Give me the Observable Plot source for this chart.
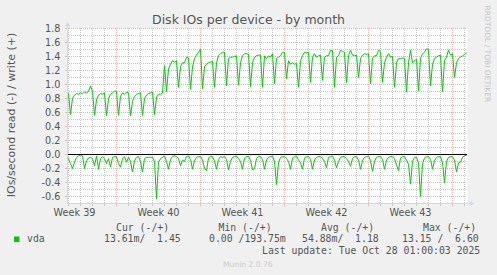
<!DOCTYPE html>
<html><head><meta charset="utf-8">
<script src="https://cdn.jsdelivr.net/npm/d3@7"></script>
<script src="https://cdn.jsdelivr.net/npm/@observablehq/plot@0.6"></script>
<style>
html,body{margin:0;padding:0;background:#F0F0F0;}
#chart{width:497px;height:275px;}
svg{display:block}
</style></head><body><div id="chart"></div>
<script>
// sampling: one value every 4 hours starting Sep 24 2025 20:00
const startTime = Date.UTC(2025, 8, 24, 20);
const stepHours = 4;

// write IOs/second (+), points at 00,04,08,12,16,20 each day
const writeIO = [0.87,
 0.87,0.57,0.80,0.85,0.87,0.86, // Sep 25
 0.88,0.87,0.89,0.88,0.90,0.98, // Sep 26
 0.90,0.56,0.78,0.85,0.87,0.86, // Sep 27
 0.88,0.55,0.80,0.86,0.88,0.91, // Sep 28
 0.90,0.56,0.83,0.88,0.86,0.89, // Sep 29
 0.88,0.55,0.76,0.83,0.86,0.87, // Sep 30
 0.88,0.56,0.80,0.85,0.87,0.88, // Oct 1
 0.89,0.57,0.82,0.86,0.86,0.88, // Oct 2
 1.27,0.90,1.22,1.29,1.34,1.32, // Oct 3
 1.34,0.96,1.25,1.31,1.31,1.39, // Oct 4
 1.38,0.93,1.25,1.37,1.42,1.46, // Oct 5
 1.50,0.94,1.25,1.29,1.31,1.32, // Oct 6
 1.33,0.96,1.31,1.41,1.44,1.46, // Oct 7
 1.46,0.98,1.37,1.39,1.39,1.40, // Oct 8
 1.41,0.99,1.31,1.41,1.44,1.44, // Oct 9
 1.43,0.97,1.31,1.39,1.41,1.42, // Oct 10
 1.42,0.96,1.41,1.37,1.41,1.39, // Oct 11
 1.44,1.01,1.37,1.39,1.41,1.46, // Oct 12
 1.46,1.08,1.34,1.29,1.31,1.29, // Oct 13
 1.30,0.96,1.34,1.41,1.46,1.45, // Oct 14
 1.46,1.03,1.39,1.44,1.39,1.41, // Oct 15
 1.42,1.06,1.39,1.41,1.41,1.49, // Oct 16
 1.48,0.96,1.39,1.41,1.49,1.47, // Oct 17
 1.46,1.03,1.41,1.49,1.42,1.41, // Oct 18
 1.42,1.10,1.37,1.42,1.44,1.43, // Oct 19
 1.44,1.01,1.37,1.41,1.41,1.49, // Oct 20
 1.47,1.03,1.31,1.39,1.44,1.39, // Oct 21
 1.40,0.96,1.31,1.37,1.37,1.38, // Oct 22
 1.37,0.89,1.31,1.49,1.31,1.34, // Oct 23
 1.36,0.91,1.37,1.44,1.46,1.51, // Oct 24
 1.50,0.98,1.29,1.37,1.39,1.41, // Oct 25
 1.42,0.90,1.34,1.39,1.49,1.42, // Oct 26
 1.44,1.10,1.31,1.37,1.39,1.41, // Oct 27
 1.43,1.45];                    // Oct 28

// read IOs/second (drawn negative)
const readIO = [-0.01,
 -0.06,-0.13,-0.20,-0.11,-0.04,-0.02, // Sep 25
 -0.01,-0.02,-0.20,-0.09,-0.05,-0.04, // Sep 26
 -0.06,-0.16,-0.02,-0.21,-0.06,-0.03, // Sep 27
 -0.06,-0.13,-0.06,-0.18,-0.04,-0.03, // Sep 28
 -0.03,-0.13,-0.18,-0.06,-0.03,-0.11, // Sep 29
 -0.04,-0.10,-0.25,-0.09,-0.04,-0.03, // Sep 30
 -0.10,-0.25,-0.06,-0.04,-0.04,-0.04, // Oct 1
 -0.04,-0.10,-0.63,-0.11,-0.06,-0.04, // Oct 2
 -0.02,-0.10,-0.21,-0.07,-0.03,-0.02, // Oct 3
 -0.03,-0.06,-0.16,-0.08,-0.10,-0.03, // Oct 4
 -0.02,-0.07,-0.21,-0.09,-0.04,-0.03, // Oct 5
 -0.03,-0.08,-0.20,-0.23,-0.05,-0.03, // Oct 6
 -0.03,-0.09,-0.21,-0.07,-0.03,-0.04, // Oct 7
 -0.03,-0.07,-0.22,-0.10,-0.04,-0.03, // Oct 8
 -0.02,-0.06,-0.10,-0.21,-0.05,-0.03, // Oct 9
 -0.03,-0.08,-0.22,-0.20,-0.06,-0.03, // Oct 10
 -0.03,-0.07,-0.21,-0.08,-0.04,-0.03, // Oct 11
 -0.02,-0.10,-0.43,-0.12,-0.04,-0.03, // Oct 12
 -0.03,-0.06,-0.10,-0.21,-0.05,-0.03, // Oct 13
 -0.02,-0.08,-0.12,-0.21,-0.05,-0.03, // Oct 14
 -0.03,-0.07,-0.21,-0.08,-0.04,-0.03, // Oct 15
 -0.03,-0.06,-0.10,-0.19,-0.04,-0.03, // Oct 16
 -0.02,-0.08,-0.19,-0.10,-0.04,-0.03, // Oct 17
 -0.03,-0.06,-0.10,-0.17,-0.06,-0.03, // Oct 18
 -0.03,-0.08,-0.21,-0.09,-0.04,-0.03, // Oct 19
 -0.02,-0.09,-0.24,-0.10,-0.04,-0.03, // Oct 20
 -0.03,-0.07,-0.21,-0.08,-0.04,-0.03, // Oct 21
 -0.03,-0.06,-0.15,-0.23,-0.05,-0.03, // Oct 22
 -0.03,-0.08,-0.14,-0.42,-0.10,-0.04, // Oct 23
 -0.04,-0.12,-0.60,-0.13,-0.05,-0.03, // Oct 24
 -0.03,-0.07,-0.21,-0.09,-0.04,-0.03, // Oct 25
 -0.03,-0.12,-0.40,-0.10,-0.04,-0.03, // Oct 26
 -0.03,-0.08,-0.25,-0.12,-0.11,-0.04, // Oct 27
 -0.02,-0.01];                        // Oct 28

const yTicks = [-0.6,-0.4,-0.2,0,0.2,0.4,0.6,0.8,1.0,1.2,1.4,1.6,1.8];
const yTickLabels = ["-0.6","-0.4","-0.2","0.0","0.2","0.4","0.6","0.8","1.0","1.2","1.4","1.6","1.8"];
const yMinor = [-0.5,-0.3,-0.1,0.1,0.3,0.5,0.7,0.9,1.1,1.3,1.5,1.7];
const weekLabels = ["Week 39","Week 40","Week 41","Week 42","Week 43"];
const weekStarts = ["2025-09-22","2025-09-29","2025-10-06","2025-10-13","2025-10-20"];
const legendHeaders = ["Cur (-/+)","Min (-/+)","Avg (-/+)","Max (-/+)"];
const legendValues = ["13.61m/  1.45","0.00 /193.75m","54.88m/  1.18","13.15 /  6.60"];
const seriesName = "vda";
const title = "Disk IOs per device - by month";
const yLabel = "IOs/second read (-) / write (+)";
const lastUpdate = "Last update: Tue Oct 28 01:00:03 2025";
const footer = "Munin 2.0.76";
const watermark = "RRDTOOL / TOBI OETIKER";

const H = 3600 * 1000;
const writeData = writeIO.map((v, i) => ({t: new Date(startTime + i * stepHours * H), v}));
const readData = readIO.map((v, i) => ({t: new Date(startTime + i * stepHours * H), v}));
const xDomain = [new Date(Date.UTC(2025, 8, 24, 22)), new Date(Date.UTC(2025, 9, 28, 6))];
const days = d3.utcDay.range(d3.utcDay.ceil(xDomain[0]), xDomain[1]);
const mondays = days.filter(d => d.getUTCDay() === 1);
const minorDays = days.filter(d => d.getUTCDay() !== 1);
const weekMid = weekStarts.map(s => new Date(new Date(s + "T00:00:00Z").getTime() + 84 * H));

const GRID = "#c6c6c6", MGRID = "#f3b0b0", AXIS = "#CFD6F8", FONT = "#555";

const plot = Plot.plot({
  width: 497, height: 275,
  marginLeft: 67, marginRight: 30, marginTop: 28, marginBottom: 72,
  x: {type: "utc", domain: xDomain, axis: null},
  y: {domain: [-0.7, 1.8], axis: null},
  style: {background: "transparent", fontFamily: "DejaVu Sans", overflow: "visible"},
  marks: [
    Plot.frame({fill: "white", stroke: "none"}),
    Plot.ruleY(yMinor, {stroke: GRID, strokeDasharray: "1,1"}),
    Plot.ruleX(minorDays, {stroke: GRID, strokeDasharray: "1,1"}),
    Plot.ruleY(yTicks, {stroke: MGRID, strokeDasharray: "1,1"}),
    Plot.ruleX(mondays, {stroke: MGRID, strokeDasharray: "1,1"}),
    Plot.line(writeData, {x: "t", y: "v", stroke: "#00CC00", strokeWidth: 1, clip: true}),
    Plot.line(readData, {x: "t", y: "v", stroke: "#00CC00", strokeWidth: 1, clip: true}),
    Plot.ruleY([0], {stroke: "black"}),
    Plot.text(yTicks, {x: xDomain[0], y: d => d, text: (d, i) => yTickLabels[i], textAnchor: "end", dx: -7, fontSize: 9.7, fill: FONT}),
    Plot.text(weekMid, {x: d => d, y: -0.7, text: (d, i) => weekLabels[i], dy: 9.5, fontSize: 9.7, fill: FONT})
  ]
});
document.getElementById("chart").appendChild(plot);

const svg = d3.select(plot);
const X = plot.scale("x"), Y = plot.scale("y");
const x0 = Math.round(X.apply(xDomain[0])) + 0.5, x1 = Math.round(X.apply(xDomain[1])) + 0.5;
const yb = Math.round(Y.apply(-0.7)) + 0.5, yt = Math.round(Y.apply(1.8)) + 0.5;
const g = svg.append("g");
// small tick marks on axes
days.forEach(d => {
  const px = Math.round(X.apply(d)) + 0.5;
  g.append("line").attr("x1", px).attr("x2", px).attr("y1", yb).attr("y2", yb + 2.5)
    .attr("stroke", d.getUTCDay() === 1 ? MGRID : GRID);
});
yTicks.forEach(v => {
  const py = Math.round(Y.apply(v)) + 0.5;
  g.append("line").attr("x1", x0 - 2.5).attr("x2", x0).attr("y1", py).attr("y2", py).attr("stroke", MGRID);
});
// axes with arrows
g.append("line").attr("x1", x0).attr("x2", x0).attr("y1", yb).attr("y2", yt - 4).attr("stroke", AXIS);
g.append("path").attr("d", `M${x0 - 2.5},${yt - 2}L${x0 + 2.5},${yt - 2}L${x0},${yt - 7}Z`).attr("fill", AXIS);
g.append("line").attr("x1", x0).attr("x2", x1 + 3).attr("y1", yb).attr("y2", yb).attr("stroke", AXIS);
g.append("path").attr("d", `M${x1 + 2},${yb - 2.5}L${x1 + 2},${yb + 2.5}L${x1 + 7},${yb}Z`).attr("fill", AXIS);

const T = svg.append("g").attr("font-family", "DejaVu Sans").attr("fill", FONT).attr("text-anchor", "start");
T.append("text").attr("x", 248.5).attr("y", 24).attr("text-anchor", "middle").attr("font-size", 12.5).text(title);
T.append("text").attr("transform", "translate(15,115) rotate(-90)").attr("text-anchor", "middle").attr("font-size", 11).text(yLabel);
T.append("text").attr("transform", "translate(485,5.5) rotate(90)").attr("font-size", 7.5).attr("fill", "#c4c4c4").text(watermark);
T.append("text").attr("x", 223).attr("y", 266.5).attr("font-size", 7.6).attr("fill", "#cccccc").text(footer);

const L = svg.append("g").attr("font-family", "DejaVu Sans Mono").attr("font-size", 9.8).attr("fill", FONT)
  .attr("text-anchor", "start").style("white-space", "pre");
L.append("rect").attr("x", 14).attr("y", 236.5).attr("width", 5.5).attr("height", 5.5).attr("fill", "#00CC00");
L.append("text").attr("x", 27).attr("y", 242).text(seriesName);
const headerX = [116, 218.5, 321, 423];
const valueX = [104, 209, 302, 402];
legendHeaders.forEach((h, i) => L.append("text").attr("x", headerX[i]).attr("y", 230.5).text(h));
legendValues.forEach((v, i) => L.append("text").attr("x", valueX[i]).attr("y", 242).text(v));
L.append("text").attr("x", 262).attr("y", 253.5).text(lastUpdate);
</script></body></html>
